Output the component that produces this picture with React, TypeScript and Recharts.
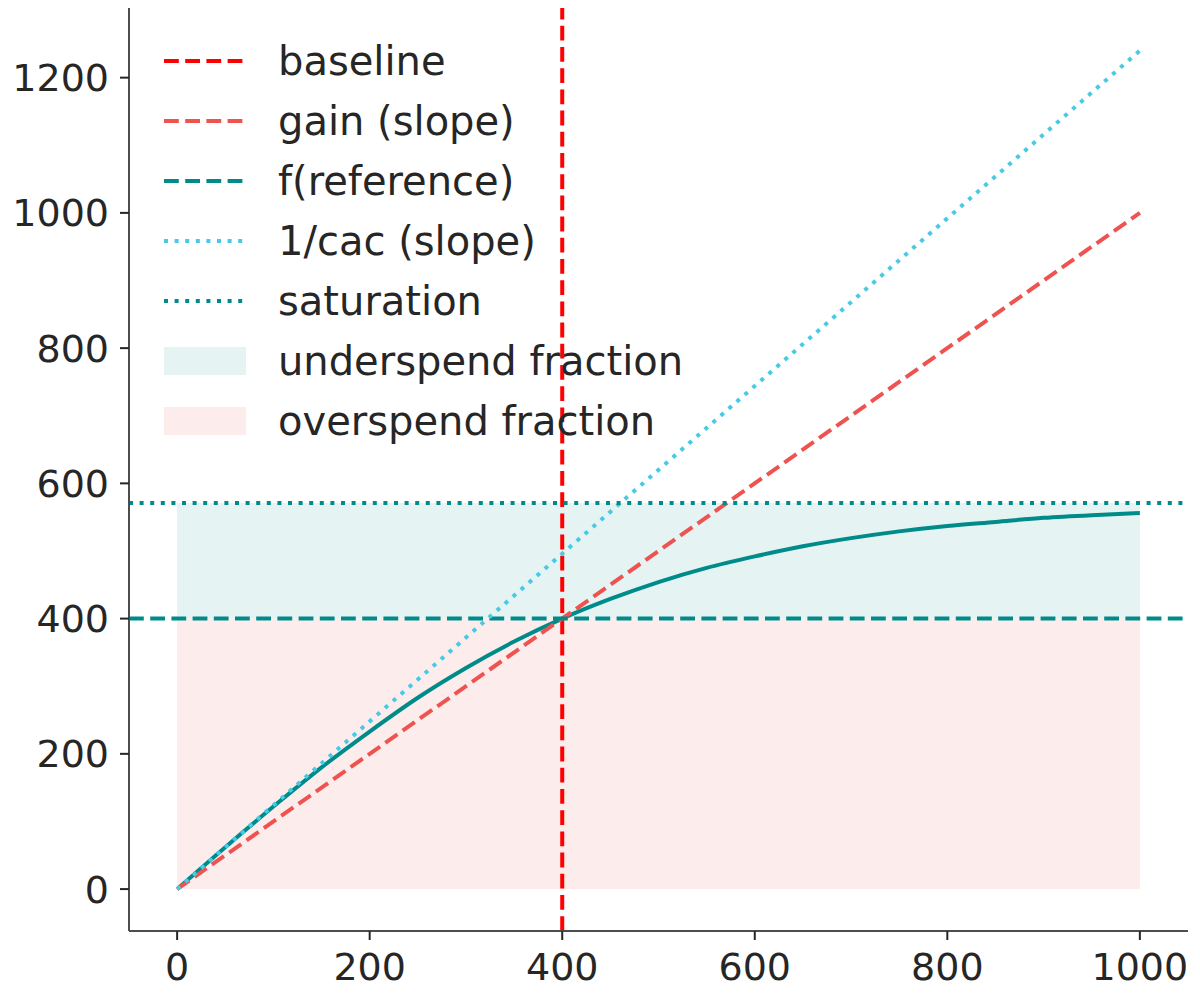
import {
  LineChart,
  Line,
  XAxis,
  YAxis,
  ReferenceLine,
  ReferenceArea,
} from "recharts";

// values
const xTicks = [0, 200, 400, 600, 800, 1000];
const yTicks = [0, 200, 400, 600, 800, 1000, 1200];

const spendX = [0, 50, 100, 150, 200, 250, 300, 350, 400, 450, 500, 550, 600, 650, 700, 750, 800, 850, 900, 950, 1000];
const responseY = [0, 62, 122, 180, 233, 283, 327, 366, 400, 429, 454, 475, 492, 507, 519, 529, 537, 543, 549, 553, 556];

const gainLine = [
  { x: 0, y: 0 },
  { x: 1000, y: 1000 },
];
const cacLine = [
  { x: 0, y: 0 },
  { x: 1000, y: 1240 },
];

const baselineX = 400;
const referenceY = 400;
const saturationY = 571;
const spanX = [0, 1000];

const curve = spendX.map((x, i) => ({ x, y: responseY[i] }));

const TEAL = "#008b8b";
const RED = "#ff0000";
const CORAL = "#ef5350";
const SKY = "#48cae4";
const TEXT = "#262626";
const UNDER = "#e5f3f3";
const OVER = "#fdecec";
const LW = 4;
const DASH = "14.8 6.4";
const DOT = "4 6.6";

type Item = { label: string; kind: "line" | "patch"; color: string; dash?: string };

const legendItems: Item[] = [
  { label: "baseline", kind: "line", color: RED, dash: DASH },
  { label: "gain (slope)", kind: "line", color: CORAL, dash: DASH },
  { label: "f(reference)", kind: "line", color: TEAL, dash: DASH },
  { label: "1/cac (slope)", kind: "line", color: SKY, dash: DOT },
  { label: "saturation", kind: "line", color: TEAL, dash: DOT },
  { label: "underspend fraction", kind: "patch", color: UNDER },
  { label: "overspend fraction", kind: "patch", color: OVER },
];

// legend drawn as an overlay so it doesn't eat into the plot area
const LegendBox = () => (
  <div
    style={{
      position: "absolute",
      left: 164,
      top: 31,
      fontFamily: "DejaVu Sans",
      fontSize: 40,
      color: TEXT,
      pointerEvents: "none",
    }}
  >
    {legendItems.map((it) => (
      <div key={it.label} style={{ display: "flex", alignItems: "center", height: 60 }}>
        <svg width={82} height={30} style={{ flex: "none" }}>
          {it.kind === "line" ? (
            <line x1={0} y1={15} x2={82} y2={15} stroke={it.color} strokeWidth={LW} strokeDasharray={it.dash} />
          ) : (
            <rect x={0} y={1} width={82} height={28} fill={it.color} />
          )}
        </svg>
        <span style={{ marginLeft: 32, whiteSpace: "nowrap", lineHeight: "60px" }}>{it.label}</span>
      </div>
    ))}
  </div>
);

const tickStyle = { fill: TEXT, fontSize: 38, fontFamily: "DejaVu Sans" };

export default function App() {
  return (
    <div style={{ position: "absolute", left: 0, top: 0, width: 1200, height: 1000, background: "#fff" }}>
      <LineChart width={1200} height={1000} margin={{ top: 8, right: 12, bottom: 0, left: 0 }}>
        <XAxis
          type="number"
          dataKey="x"
          domain={[-50, 1050]}
          ticks={xTicks}
          allowDataOverflow
          height={69}
          tick={tickStyle}
          tickSize={9}
          tickMargin={13}
          axisLine={{ stroke: "#4d4d4d", strokeWidth: 2 }}
          tickLine={{ stroke: TEXT, strokeWidth: 2 }}
        />
        <YAxis
          type="number"
          dataKey="y"
          domain={[-62, 1303]}
          ticks={yTicks}
          allowDataOverflow
          width={129}
          tick={tickStyle}
          tickSize={9}
          tickMargin={11}
          axisLine={{ stroke: "#4d4d4d", strokeWidth: 2 }}
          tickLine={{ stroke: TEXT, strokeWidth: 2 }}
        />
        <ReferenceArea x1={spanX[0]} x2={spanX[1]} y1={0} y2={referenceY} fill={OVER} fillOpacity={1} stroke="none" />
        <ReferenceArea x1={spanX[0]} x2={spanX[1]} y1={referenceY} y2={saturationY} fill={UNDER} fillOpacity={1} stroke="none" />
        <Line data={curve} dataKey="y" type="monotone" stroke={TEAL} strokeWidth={LW} dot={false} isAnimationActive={false} />
        <ReferenceLine x={baselineX} stroke={RED} strokeWidth={LW} strokeDasharray={DASH} />
        <Line data={gainLine} dataKey="y" type="linear" stroke={CORAL} strokeWidth={LW} strokeDasharray={DASH} dot={false} isAnimationActive={false} />
        <ReferenceLine y={referenceY} stroke={TEAL} strokeWidth={LW} strokeDasharray={DASH} />
        <Line data={cacLine} dataKey="y" type="linear" stroke={SKY} strokeWidth={LW} strokeDasharray={DOT} dot={false} isAnimationActive={false} />
        <ReferenceLine y={saturationY} stroke={TEAL} strokeWidth={LW} strokeDasharray={DOT} />
      </LineChart>
      <LegendBox />
    </div>
  );
}
